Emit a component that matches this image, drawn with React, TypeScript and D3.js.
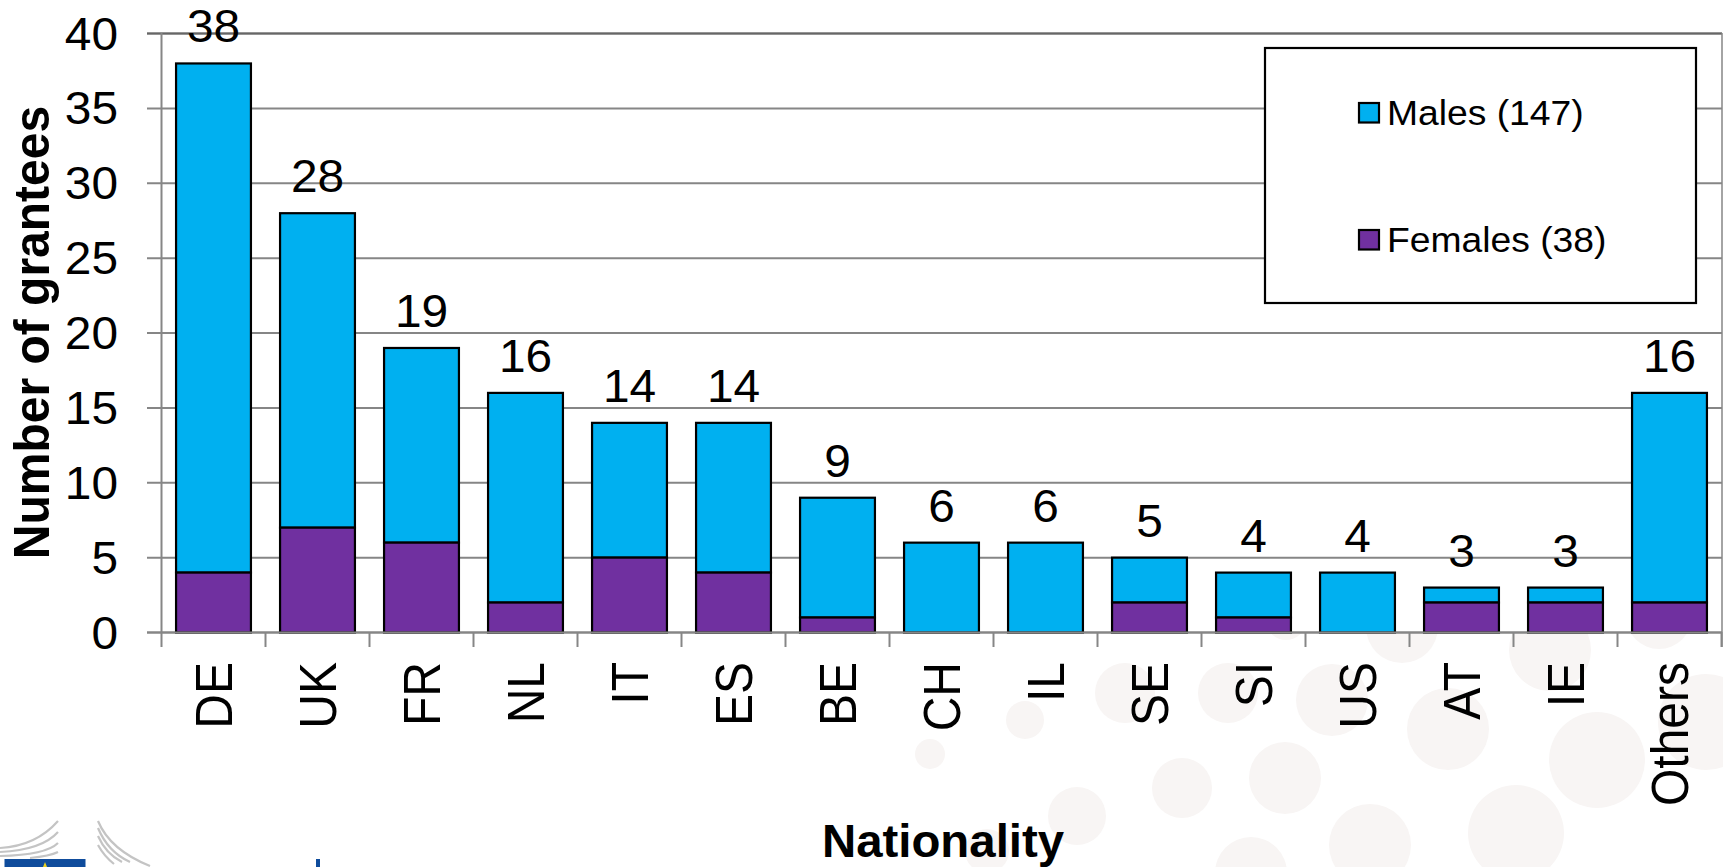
import React from "react";
import * as d3 from "d3";

const categories = ["DE","UK","FR","NL","IT","ES","BE","CH","IL","SE","SI","US","AT","IE","Others"];
const females = [4,7,6,2,5,4,1,0,0,2,1,0,2,2,2];
const males = [34,21,13,14,9,10,8,6,6,3,3,4,1,1,14];
const totals = [38,28,19,16,14,14,9,6,6,5,4,4,3,3,16];
const yTicks = [0,5,10,15,20,25,30,35,40];
const legendItems = ["Males (147)", "Females (38)"];
const seriesColors = ["#00B0F0", "#7030A0"];
const blobs: [number, number, number][] = [
  [930,754,15],[1025,720,19],[1125,693,30],[1228,693,30],[1332,700,36],[1402,627,36],
  [1448,729,41],[1550,650,41],[1659,616,33],[1286,620,20],[1597,760,48],[1706,722,48],
  [1182,788,30],[1285,778,36],[1077,816,29],[1370,845,41],[1516,833,48],[1251,873,36],[987,851,22],
];
const logoCurves = [
  "M0,848 Q36,846 58,821","M0,852 Q42,850 58,832","M0,856 Q46,855 58,843","M30,858 Q50,856 58,852",
  "M98,821 Q110,850 150,866","M98,828 Q108,852 130,862","M98,836 Q106,854 122,862","M98,845 Q104,856 114,864",
];

const FONT = "'Liberation Sans', Arial, sans-serif";

function T({x,y,size,sx=1.04,rot,bold,anchor,children}: any) {
  const tf = `translate(${x},${y}) scale(${sx},1)` + (rot ? " rotate(-90)" : "");
  return <text transform={tf} fontFamily={FONT} fontSize={size} fontWeight={bold ? 700 : 400} textAnchor={anchor || "middle"} fill="#000">{children}</text>;
}

export default function App() {
  const x = d3.scaleBand<string>().domain(categories).range([161.5, 1721.5]).paddingInner(0.28).paddingOuter(0.14);
  const xStep = d3.scaleBand<string>().domain(categories).range([161.5, 1721.5]);
  const y = d3.scaleLinear().domain([0,40]).range([632.5, 33.5]);
  const grid = "#868686";
  return (
    <svg width={1723} height={867} style={{position:"absolute",left:0,top:0,background:"#fff"}}>
      {blobs.map((b,i)=><circle key={i} cx={b[0]} cy={b[1]} r={b[2]} fill="#F8F5F4"/>)}
      <rect x={161} y={33} width={1561} height={600} fill="#fff"/>
      {logoCurves.map((d,i)=><path key={i} d={d} fill="none" stroke="#C4C4C4" strokeWidth={2.2}/>)}
      <rect x={4.5} y={859} width={81} height={8} fill="#0F4C9C"/>
      <path d="M45,862 L47,867 L43,867 Z" fill="#E8D020"/>
      <rect x={316} y={859} width={4} height={8} fill="#0F4C9C"/>
      {yTicks.map(t=>(
        <g key={t}>
          <line x1={147} x2={1722} y1={y(t)} y2={y(t)} stroke={grid} strokeWidth={2}/>
          <T x={118} y={y(t)+16} size={46} anchor="end">{t}</T>
        </g>
      ))}
      <line x1={147} x2={1722} y1={33.5} y2={33.5} stroke="#666" strokeWidth={2}/>
      <line x1={161.5} x2={161.5} y1={33} y2={647} stroke={grid} strokeWidth={2}/>
      <line x1={1722} x2={1722} y1={33} y2={647} stroke={grid} strokeWidth={1.5}/>
      {categories.map((c)=>{
        const sx = xStep(c)!;
        return <line key={c} x1={sx+xStep.bandwidth()} x2={sx+xStep.bandwidth()} y1={632} y2={647} stroke={grid} strokeWidth={2}/>;
      })}
      {categories.map((c,i)=>(
        <g key={c}>
          <rect x={x(c)} width={x.bandwidth()} y={y(females[i]+males[i])} height={y(females[i])-y(females[i]+males[i])} fill={seriesColors[0]} stroke="#000" strokeWidth={2.2}/>
          {females[i]>0 && <rect x={x(c)} width={x.bandwidth()} y={y(females[i])} height={y(0)-y(females[i])} fill={seriesColors[1]} stroke="#000" strokeWidth={2.2}/>}
          <T x={x(c)!+x.bandwidth()/2} y={y(totals[i])-21} size={46}>{totals[i]}</T>
          <T x={x(c)!+x.bandwidth()/2+18} y={662} size={48} sx={1.07} rot anchor="end">{c}</T>
        </g>
      ))}
      <line x1={147} x2={1722} y1={632.5} y2={632.5} stroke={grid} strokeWidth={2}/>
      <rect x={1265} y={48} width={431} height={255} fill="#fff" stroke="#000" strokeWidth={2.2}/>
      {legendItems.map((l,i)=>(
        <g key={l}>
          <rect x={1359} y={103+i*127} width={20} height={19.5} fill={seriesColors[i]} stroke="#000" strokeWidth={2.2}/>
          <T x={1387} y={125+i*127} size={35.5} sx={1.05} anchor="start">{l}</T>
        </g>
      ))}
      <T x={49} y={332.5} size={48} sx={1.05} rot bold>Number of grantees</T>
      <T x={943} y={856.5} size={46} sx={1.03} bold>Nationality</T>
    </svg>
  );
}
